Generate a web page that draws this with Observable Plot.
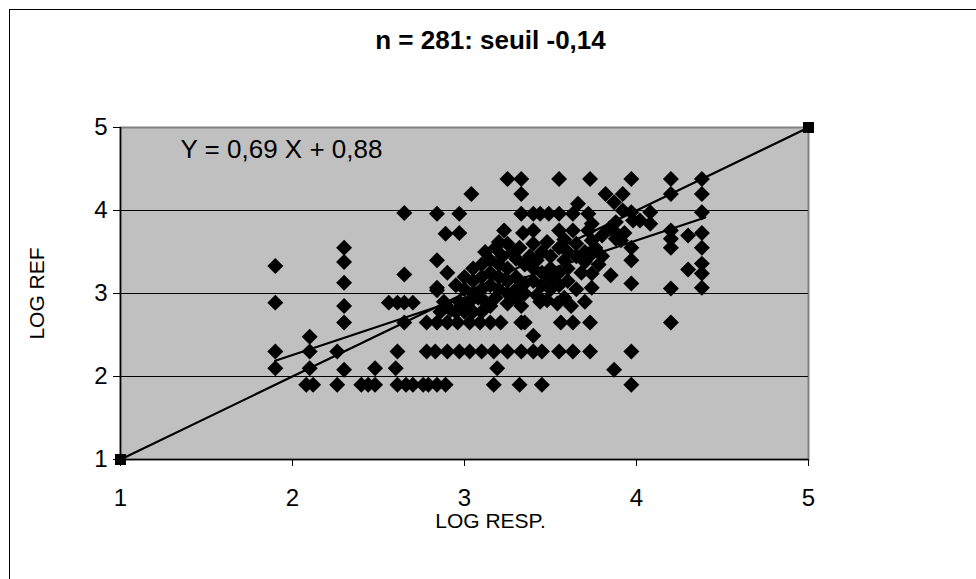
<!DOCTYPE html>
<html>
<head>
<meta charset="utf-8">
<script src="https://cdn.jsdelivr.net/npm/d3@7"></script>
<script src="https://cdn.jsdelivr.net/npm/@observablehq/plot@0.6"></script>
<style>
  html, body { margin: 0; padding: 0; background: #fff; }
  #chart { position: relative; width: 976px; height: 579px; overflow: hidden; }
</style>
</head>
<body>
<div id="chart"></div>
<script>
const titleText = "n = 281: seuil -0,14";
const equationText = "Y = 0,69 X + 0,88";
const xLabel = "LOG RESP.";
const yLabel = "LOG REF";
const xTicks = [1, 2, 3, 4, 5];
const yTicks = [1, 2, 3, 4, 5];
const gridValues = [2, 3, 4];

// [LOG RESP., LOG REF]
const observations = [
  [1.9,3.33],[1.9,2.89],[1.9,2.3],[1.9,2.1],
  [2.1,2.48],[2.1,2.3],[2.1,2.1],[2.08,1.9],[2.12,1.9],
  [2.26,2.3],[2.26,1.9],
  [2.3,3.55],[2.3,3.38],[2.3,3.13],[2.3,2.85],[2.3,2.65],[2.3,2.08],
  [2.4,1.9],[2.44,1.9],[2.48,1.9],[2.48,2.1],
  [2.6,2.1],[2.61,2.3],[2.61,1.9],[2.66,1.9],[2.7,1.9],[2.76,1.9],
  [2.56,2.89],[2.61,2.89],[2.65,2.89],[2.7,2.89],
  [2.65,3.97],[2.65,3.23],[2.65,2.65],
  [2.78,2.65],[2.78,2.3],
  [2.79,1.9],[2.84,1.9],[2.89,1.9],[3.17,1.9],[3.32,1.9],[3.45,1.9],[3.97,1.9],
  [3.19,2.1],[3.87,2.08],
  [2.83,2.3],[2.9,2.3],[2.97,2.3],[3.03,2.3],[3.1,2.3],[3.17,2.3],[3.25,2.3],[3.33,2.3],[3.4,2.3],[3.45,2.3],[3.55,2.3],[3.63,2.3],[3.73,2.3],[3.97,2.3],
  [3.4,2.49],
  [2.84,2.65],[2.9,2.65],[2.96,2.65],[3.03,2.65],[3.09,2.65],[3.15,2.65],[3.21,2.65],[3.33,2.65],[3.35,2.65],[3.56,2.65],[3.63,2.65],[3.73,2.65],[4.2,2.65],
  [3.25,2.88],[3.33,2.85],[3.44,2.9],[3.54,2.88],
  [2.84,3.4],[2.9,3.25],[2.84,3.07],[2.88,2.9],[2.84,3.04],
  [2.89,3.72],[2.97,3.73],[2.84,3.96],[2.97,3.96],[3.04,4.2],
  [3.25,4.38],[3.33,4.38],[3.55,4.38],[3.73,4.38],[3.97,4.38],[4.2,4.38],[4.38,4.38],
  [3.33,4.2],[3.82,4.2],[3.92,4.2],[4.2,4.2],[4.38,4.2],
  [3.33,3.96],[3.4,3.96],[3.44,3.96],[3.49,3.96],[3.55,3.96],[3.63,3.96],[3.72,3.96],[3.66,4.08],[3.87,4.1],
  [3.92,4.0],[3.97,3.98],[4.08,3.98],[4.38,3.98],
  [3.23,3.76],[3.34,3.73],[3.4,3.76],[3.55,3.76],[3.63,3.76],[3.72,3.76],
  [3.88,3.86],[3.98,3.88],[4.02,3.88],[4.08,3.84],[3.74,3.84],[3.88,3.73],[3.93,3.73],
  [4.2,3.76],[4.2,3.66],[4.3,3.7],[4.38,3.73],[3.88,3.66],[3.91,3.64],[3.74,3.64],
  [4.2,3.55],[4.38,3.55],[3.97,3.55],[3.74,3.48],[3.97,3.4],[4.38,3.36],[4.38,3.24],[4.3,3.29],
  [3.85,3.22],[3.74,3.24],[3.97,3.12],[4.2,3.06],[4.38,3.07],[3.74,3.07],
  [2.95,2.78],[3.0,2.78],[3.05,2.78],[3.1,2.78],[3.15,2.85],
  [2.97,2.9],[3.03,2.9],[3.08,2.95],[3.12,2.9],[3.18,2.95],
  [3.0,3.05],[3.05,3.0],[3.1,3.05],[3.15,3.1],[3.2,3.05],[3.25,3.0],[3.3,3.05],[3.35,3.0],
  [3.05,3.15],[3.1,3.2],[3.15,3.25],[3.2,3.2],[3.25,3.15],[3.3,3.2],[3.4,3.15],[3.45,3.1],[3.5,3.05],[3.55,3.1],[3.6,3.15],[3.65,3.05],
  [3.05,3.3],[3.1,3.35],[3.15,3.4],[3.2,3.35],[3.25,3.3],[3.35,3.35],[3.4,3.3],[3.45,3.25],[3.5,3.3],[3.55,3.25],[3.6,3.3],[3.68,3.25],
  [3.12,3.5],[3.18,3.55],[3.22,3.45],[3.28,3.5],[3.32,3.55],[3.38,3.45],[3.45,3.5],[3.5,3.45],[3.55,3.55],[3.6,3.5],[3.65,3.45],[3.7,3.5],
  [3.2,3.62],[3.25,3.6],[3.4,3.6],[3.48,3.62],[3.58,3.65],[3.65,3.6],
  [3.3,2.95],[3.42,2.98],[3.48,2.92],[3.58,2.95],[3.62,2.85],[3.7,2.9],
  [3.35,3.12],[3.5,3.18],[3.3,3.42],[3.42,3.4],[3.58,3.4],[3.7,3.38],
  [3.76,3.55],[3.8,3.45],[3.78,3.35],[3.8,3.7],[3.84,3.78],
  [2.86,2.78],[2.92,2.8],[2.95,3.1],[3.0,3.2]
];

const identityLine = [[1, 1], [5, 5]];
const fitLine = [[1.9, 2.19], [4.4, 3.916]];

const font = "'Liberation Sans', Arial, sans-serif";

const plot = Plot.plot({
  width: 976,
  height: 579,
  marginLeft: 120,
  marginRight: 168,
  marginTop: 127,
  marginBottom: 120,
  style: { background: "white", fontFamily: font, color: "black" },
  x: { domain: [1, 5] },
  y: { domain: [1, 5] },
  marks: [
    Plot.frame({ fill: "#C0C0C0", stroke: "#808080", strokeWidth: 2 }),
    Plot.ruleY(gridValues, { stroke: "black", strokeWidth: 1 }),
    Plot.ruleY([1], { stroke: "black", strokeWidth: 1.5 }),
    Plot.ruleX([1], { stroke: "black", strokeWidth: 1.5 }),
    Plot.axisX({ ticks: xTicks, tickSize: 7, tickPadding: 22, fontSize: 24, label: null, tickFormat: d => String(d) }),
    Plot.axisY({ ticks: yTicks, tickSize: 7, tickPadding: 6, fontSize: 24, label: null, tickFormat: d => String(d) }),
    Plot.dot(observations, { x: d => d[0], y: d => d[1], symbol: "diamond2", r: 7.2, fill: "black", stroke: "none" }),
    Plot.line(identityLine, { x: d => d[0], y: d => d[1], stroke: "black", strokeWidth: 2.2 }),
    Plot.line(fitLine, { x: d => d[0], y: d => d[1], stroke: "black", strokeWidth: 2.2 }),
    Plot.dot(identityLine, { x: d => d[0], y: d => d[1], symbol: "square", r: 6.2, fill: "black", stroke: "none" }),
    Plot.text([equationText], { frameAnchor: "top-left", textAnchor: "start", lineAnchor: "middle", dx: 60, dy: 22, fontSize: 26, fill: "black" }),
    Plot.text([titleText], { frameAnchor: "top", lineAnchor: "middle", dx: 26, dy: -87, fontSize: 26, fontWeight: "bold", fill: "black" }),
    Plot.text([xLabel], { frameAnchor: "bottom", lineAnchor: "middle", dx: 26, dy: 62, fontSize: 21, fill: "black" }),
    Plot.text([yLabel], { frameAnchor: "left", textAnchor: "middle", lineAnchor: "middle", rotate: -90, dx: -83, fontSize: 21, fill: "black" })
  ]
});

d3.select(plot).append("rect")
  .attr("x", 9.5).attr("y", 9.5)
  .attr("width", 990).attr("height", 590)
  .attr("fill", "none").attr("stroke", "black").attr("stroke-width", 1);

document.getElementById("chart").appendChild(plot);
</script>
</body>
</html>
